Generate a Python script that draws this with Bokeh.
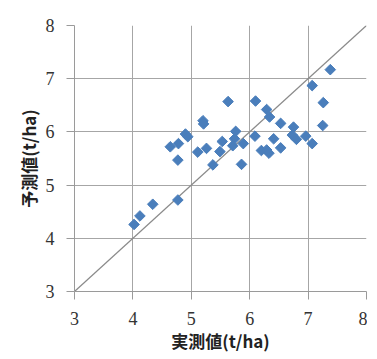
from bokeh.plotting import figure
from bokeh.embed import file_html
from bokeh.resources import INLINE
from bokeh.models import FixedTicker, Range1d

measured = [4.02, 4.12, 4.34, 4.77, 4.64, 4.78, 4.77, 4.90, 4.94, 5.20, 5.21,
            5.11, 5.26, 5.37, 5.49, 5.53, 5.63, 5.74, 5.76, 5.71, 5.89, 5.86,
            6.09, 6.10, 6.29, 6.34, 6.20, 6.29, 6.33, 6.41, 6.53, 6.53, 6.75,
            6.73, 6.80, 6.96, 7.07, 7.07, 7.26, 7.25, 7.38]
predicted = [4.26, 4.42, 4.64, 4.72, 5.72, 5.78, 5.47, 5.96, 5.91, 6.21, 6.15,
             5.62, 5.69, 5.38, 5.63, 5.82, 6.57, 5.87, 6.01, 5.74, 5.78, 5.39,
             5.92, 6.58, 6.42, 6.28, 5.65, 5.66, 5.60, 5.87, 6.16, 5.70, 6.09,
             5.94, 5.86, 5.92, 5.78, 6.87, 6.55, 6.12, 7.17]
line_x = [3, 8]
line_y = [3, 8]
ticks = [3, 4, 5, 6, 7, 8]

p = figure(width=367, height=355, output_backend="svg", toolbar_location=None,
           x_range=Range1d(3, 8), y_range=Range1d(3, 8),
           min_border_left=74, min_border_right=1, min_border_top=25, min_border_bottom=58)
p.outline_line_color = None
p.background_fill_color = "white"

p.line(line_x, line_y, line_color="#8a8a8a", line_width=1.2)
p.scatter(measured, predicted, marker="square", size=7.5, angle=0.785398,
          fill_color="#4a7ebb", line_color="#4a7ebb", line_width=1)

for ax in (p.xaxis, p.yaxis):
    ax.ticker = FixedTicker(ticks=ticks)
    ax.axis_line_color = "#9a9a9a"
    ax.major_tick_line_color = "#9a9a9a"
    ax.major_tick_out = 8
    ax.major_tick_in = 0
    ax.minor_tick_line_color = None
    ax.major_label_text_font = "'Liberation Serif', 'DejaVu Serif', serif"
    ax.major_label_text_font_size = "18px"
    ax.major_label_text_color = "#333333"
    ax.major_label_standoff = 12
    ax.axis_label_text_font = "Noto Sans CJK JP"
    ax.axis_label_text_font_style = "bold"
    ax.axis_label_text_font_size = "17px"
    ax.axis_label_text_color = "#222222"

p.xaxis.axis_label = "実測値(t/ha)"
p.yaxis.axis_label = "予測値(t/ha)"
p.xaxis.axis_label_standoff = 0
p.yaxis.axis_label_standoff = 2

p.grid.grid_line_color = "#a6a6a6"
p.grid.grid_line_width = 1
p.xgrid.ticker = FixedTicker(ticks=ticks)
p.ygrid.ticker = FixedTicker(ticks=ticks)

open("out.html", "w").write(file_html(p, INLINE))
